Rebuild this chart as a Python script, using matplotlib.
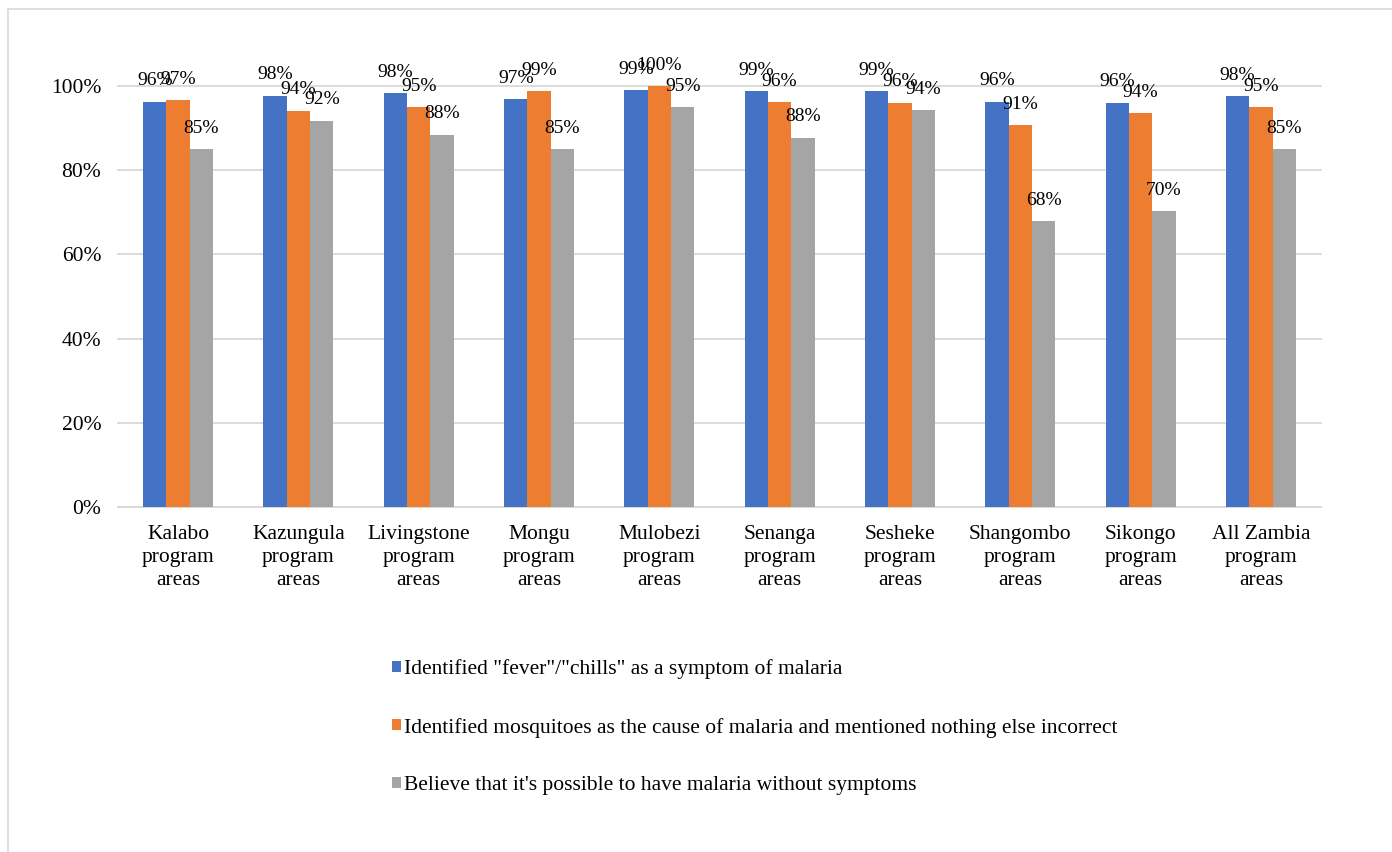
import numpy as np
import matplotlib.pyplot as plt
from matplotlib.lines import Line2D
from matplotlib.ticker import PercentFormatter

plt.rcParams["font.family"] = ["Liberation Serif", "DejaVu Serif"]

areas = [
    "Kalabo\nprogram\nareas",
    "Kazungula\nprogram\nareas",
    "Livingstone\nprogram\nareas",
    "Mongu\nprogram\nareas",
    "Mulobezi\nprogram\nareas",
    "Senanga\nprogram\nareas",
    "Sesheke\nprogram\nareas",
    "Shangombo\nprogram\nareas",
    "Sikongo\nprogram\nareas",
    "All Zambia\nprogram\nareas",
]

fever_chills = [96.2, 97.7, 98.3, 96.8, 99.0, 98.7, 98.8, 96.3, 96.0, 97.6]
mosquito_cause = [96.6, 94.1, 94.9, 98.7, 100.0, 96.1, 96.0, 90.7, 93.5, 94.9]
no_symptoms = [85.0, 91.8, 88.4, 85.0, 94.9, 87.7, 94.2, 67.9, 70.3, 85.0]

series_names = [
    'Identified "fever"/"chills" as a symptom of malaria',
    "Identified mosquitoes as the cause of malaria and mentioned nothing else incorrect",
    "Believe that it's possible to have malaria without symptoms",
]
series_values = [fever_chills, mosquito_cause, no_symptoms]
colors = ["#4472C4", "#ED7D31", "#A5A5A5"]

W, H = 1392, 852
fig = plt.figure(figsize=(W / 100, H / 100), dpi=100)
ax = fig.add_axes([118 / W, 1 - 507 / H, (1321 - 118) / W, (507 - 86) / H])

x = np.arange(len(areas))
width = 0.194

for i, (name, vals, c) in enumerate(zip(series_names, series_values, colors)):
    pos = x + (i - 1) * width
    bars = ax.bar(pos, vals, width, color=c, label=name, zorder=3, linewidth=0)
    for b, v in zip(bars, vals):
        ax.annotate(f"{v:.0f}%", (b.get_x() + b.get_width() / 2, v),
                    xytext=(0, 21), textcoords="offset pixels",
                    ha="center", va="center", fontsize=14, zorder=5)

ax.set_xlim(-0.5, len(areas) - 0.5)
ax.set_ylim(0, 100)
ax.set_yticks(np.arange(0, 101, 20))
ax.yaxis.set_major_formatter(PercentFormatter(decimals=0))
ax.grid(axis="y", color="#d9d9d9", linewidth=1.3, zorder=0)
for gl in ax.get_ygridlines():
    gl.set_clip_on(False)

ax.set_xticks(x)
ax.set_xticklabels(areas, fontsize=15.5, linespacing=1.3)
ax.tick_params(axis="x", length=0, pad=13)
ax.tick_params(axis="y", length=0, pad=12, labelsize=15.5)

for side in ["top", "right", "left"]:
    ax.spines[side].set_visible(False)
ax.spines["bottom"].set_color("#d9d9d9")
ax.spines["bottom"].set_linewidth(1.3)

fig.legend(loc="upper left", bbox_to_anchor=(392 / W, 1 - 659 / H),
           frameon=False, fontsize=15.5, handlelength=0.4, handleheight=0.4,
           handletextpad=0.15, labelspacing=1.8, borderpad=0, borderaxespad=0)

# outer chart frame
fig.add_artist(Line2D([8 / W, 1], [1 - 9 / H, 1 - 9 / H], color="#d9d9d9", linewidth=1.2))
fig.add_artist(Line2D([8 / W, 8 / W], [0, 1 - 9 / H], color="#d9d9d9", linewidth=1.2))

fig.savefig("out.png", dpi=100)
